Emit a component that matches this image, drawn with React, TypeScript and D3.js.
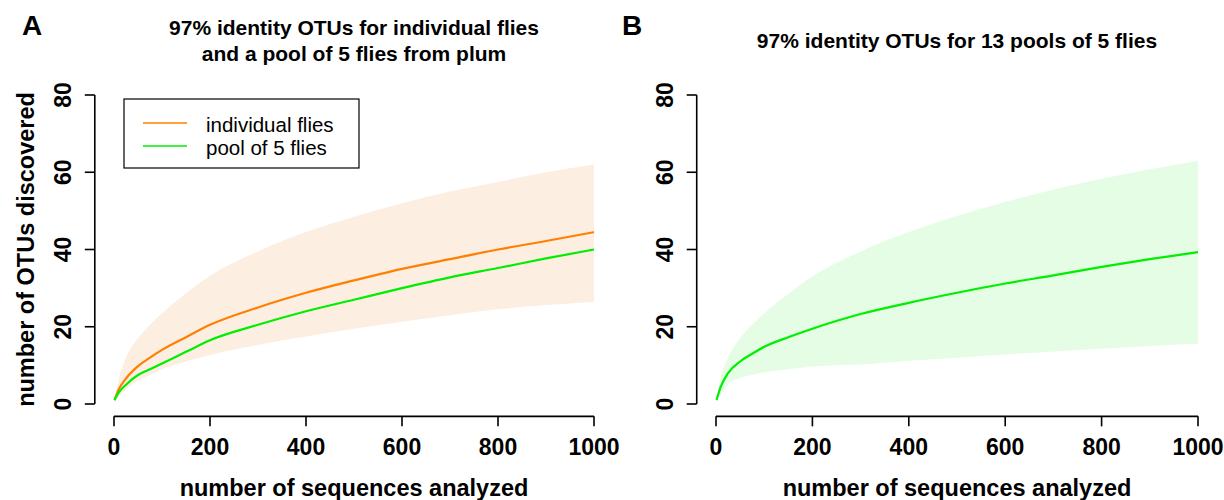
import React from "react";
import * as d3 from "d3";

const seqs = [1, 10, 25, 50, 75, 100, 150, 200, 300, 400, 500, 600, 700, 800, 900, 1000];

const indivMean = [1, 3.8, 6.6, 9.8, 12, 14, 17.3, 20.5, 25, 28.8, 32, 35, 37.5, 40, 42.2, 44.5];
const indivUpper = [1, 6.5, 12, 17, 20.5, 23.5, 28.7, 33.2, 39.5, 44.5, 48.5, 52, 55, 57.5, 60, 62];
const indivLower = [1, 2, 3.8, 6, 7.5, 9, 11, 12.7, 15.3, 17.5, 19.5, 21.3, 23, 24.5, 25.6, 26.5];
const poolAMean = [1, 3, 5, 7.5, 9, 10.5, 13.5, 16.5, 20.5, 24, 27, 30, 32.8, 35.2, 37.7, 40];

const poolsMean = [1, 4.5, 8, 11, 13, 14.8, 17.3, 19.5, 23.3, 26.2, 28.8, 31.2, 33.3, 35.5, 37.5, 39.3];
const poolsUpper = [1, 7, 12, 17, 20.5, 23.5, 28.5, 33, 39.5, 44.5, 48.7, 52.3, 55.5, 58.3, 60.8, 63];
const poolsLower = [1, 2.5, 5, 6.8, 7.6, 8.2, 9, 9.7, 10.2, 11.2, 12, 12.8, 13.6, 14.3, 15, 15.6];

const xTicks = [0, 200, 400, 600, 800, 1000];
const yTicks = [0, 20, 40, 60, 80];

const ORANGE = "#ff7f00";
const GREEN = "#00ee00";
const ORANGE_FILL = "#fdeee2";
const GREEN_FILL = "#e4fde4";
const FONT = "'Liberation Sans', Arial, sans-serif";

type Band = { lower: number[]; upper: number[]; fill: string };
type Line = { values: number[]; color: string };

function Panel({
  x0, x1, letter, letterX, titleLines, titleY, bands, lines, yTitle, legend,
}: {
  x0: number; x1: number; letter: string; letterX: number; titleLines: string[]; titleY: number[];
  bands: Band[]; lines: Line[]; yTitle?: string; legend?: boolean;
}) {
  const xs = d3.scaleLinear().domain([0, 1000]).range([x0, x1]);
  const ys = d3.scaleLinear().domain([0, 80]).range([404, 95]);
  const left = xs(-40);
  const right = xs(1040);
  const bottom = ys(-3.2);
  const cx = (left + right) / 2;
  const area = d3
    .area<number>()
    .x((_, i) => xs(seqs[i]))
    .curve(d3.curveMonotoneX);
  const line = d3
    .line<number>()
    .x((_, i) => xs(seqs[i]))
    .y((d) => ys(d))
    .curve(d3.curveMonotoneX);
  return (
    <g fontFamily={FONT}>
      <text x={letterX} y={35} fontSize={28} fontWeight="bold" textAnchor="middle">
        {letter}
      </text>
      {titleLines.map((t, i) => (
        <text key={i} x={cx} y={titleY[i]} fontSize={21} fontWeight="bold" textAnchor="middle">
          {t}
        </text>
      ))}
      {bands.map((b, i) => (
        <path
          key={i}
          d={area.y0((_, j) => ys(b.lower[j])).y1((_, j) => ys(b.upper[j]))(seqs) || ""}
          fill={b.fill}
          stroke="none"
        />
      ))}
      {lines.map((l, i) => (
        <path key={i} d={line(l.values) || ""} fill="none" stroke={l.color} strokeWidth={2.2} />
      ))}
      {/* x axis */}
      <line x1={xs(0)} x2={xs(1000)} y1={bottom} y2={bottom} stroke="#000" strokeWidth={1.6} />
      {xTicks.map((t) => (
        <g key={t}>
          <line x1={xs(t)} x2={xs(t)} y1={bottom} y2={bottom + 10} stroke="#000" strokeWidth={1.6} />
          <text x={xs(t)} y={455} fontSize={23} fontWeight="bold" textAnchor="middle">
            {t}
          </text>
        </g>
      ))}
      <text x={cx} y={496} fontSize={23.5} fontWeight="bold" textAnchor="middle">
        number of sequences analyzed
      </text>
      {/* y axis */}
      <line x1={left} x2={left} y1={ys(0)} y2={ys(80)} stroke="#000" strokeWidth={1.6} />
      {yTicks.map((t) => (
        <g key={t}>
          <line x1={left - 10} x2={left} y1={ys(t)} y2={ys(t)} stroke="#000" strokeWidth={1.6} />
          <text
            transform={`translate(${left - 32},${ys(t)}) rotate(-90)`}
            fontSize={23}
            fontWeight="bold"
            textAnchor="middle"
            dominantBaseline="central"
          >
            {t}
          </text>
        </g>
      ))}
      {yTitle && (
        <text
          transform={`translate(${left - 69},${(ys(-3.2) + ys(83.2)) / 2}) rotate(-90)`}
          fontSize={23.5}
          fontWeight="bold"
          textAnchor="middle"
          dominantBaseline="central"
        >
          {yTitle}
        </text>
      )}
      {legend && (
        <g>
          <rect x={124} y={99} width={235} height={69} fill="#fff" stroke="#000" strokeWidth={1.2} />
          <line x1={143} x2={187} y1={123} y2={123} stroke={ORANGE} strokeWidth={1.3} />
          <line x1={143} x2={187} y1={146} y2={146} stroke={GREEN} strokeWidth={1.3} />
          <text x={206} y={124} fontSize={20.5} dominantBaseline="central">individual flies</text>
          <text x={206} y={147} fontSize={20.5} dominantBaseline="central">pool of 5 flies</text>
        </g>
      )}
    </g>
  );
}

export default function App() {
  return (
    <svg width={1224} height={500} style={{ position: "absolute", left: 0, top: 0, background: "#fff" }}>
      <rect width={1224} height={500} fill="#fff" />
      <Panel
        x0={114}
        x1={594}
        letter="A"
        letterX={32}
        titleLines={["97% identity OTUs for individual flies", "and a pool of 5 flies from plum"]}
        titleY={[35, 61]}
        bands={[{ lower: indivLower, upper: indivUpper, fill: ORANGE_FILL }]}
        lines={[
          { values: indivMean, color: ORANGE },
          { values: poolAMean, color: GREEN },
        ]}
        yTitle="number of OTUs discovered"
        legend
      />
      <Panel
        x0={716}
        x1={1198}
        letter="B"
        letterX={632}
        titleLines={["97% identity OTUs for 13 pools of 5 flies"]}
        titleY={[48]}
        bands={[{ lower: poolsLower, upper: poolsUpper, fill: GREEN_FILL }]}
        lines={[{ values: poolsMean, color: GREEN }]}
      />
    </svg>
  );
}
